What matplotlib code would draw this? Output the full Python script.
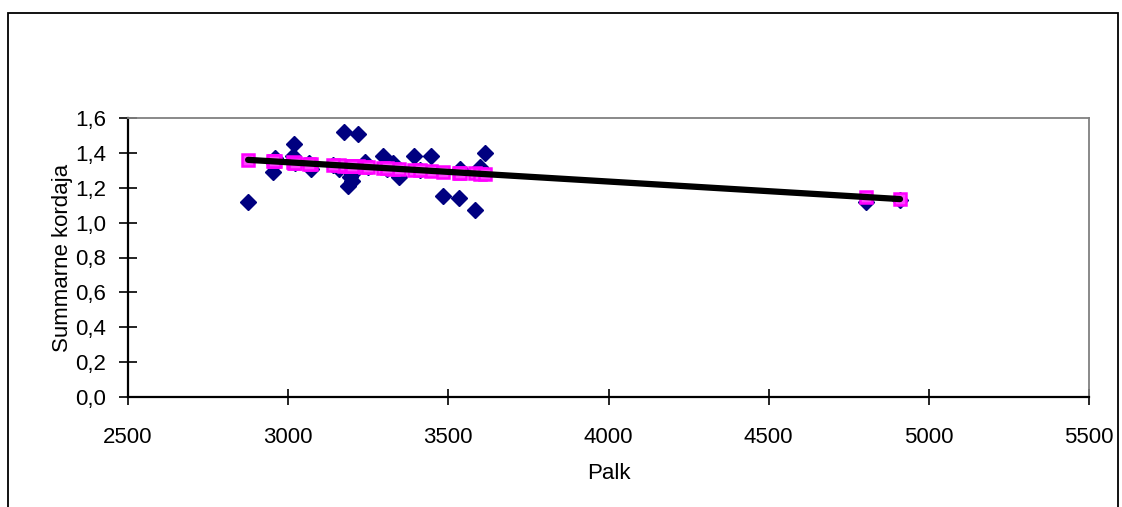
import matplotlib.pyplot as plt
from matplotlib.patches import Rectangle
from matplotlib.ticker import FuncFormatter

plt.rcParams['font.family'] = ['Liberation Sans', 'DejaVu Sans']

# observed values (Palk vs Summarne kordaja)
palk = [2875, 2953, 2960, 2955, 3018, 3015, 3020, 3070, 3065, 3175,
        3218, 3187, 3193, 3198, 3200, 3160, 3140, 3240, 3296, 3327,
        3346, 3310, 3393, 3446, 3483, 3533, 3583, 3537, 3599, 3615,
        3410, 3250, 4805, 4910]
kordaja = [1.12, 1.29, 1.37, 1.34, 1.45, 1.38, 1.34, 1.31, 1.34, 1.52,
           1.51, 1.21, 1.26, 1.24, 1.28, 1.31, 1.33, 1.35, 1.38, 1.34,
           1.26, 1.31, 1.38, 1.38, 1.15, 1.14, 1.07, 1.31, 1.32, 1.40,
           1.30, 1.32, 1.12, 1.13]
# predicted values (on trend line)
prognoos = [1.360, 1.351, 1.351, 1.351, 1.344, 1.345, 1.344, 1.338, 1.339, 1.327,
            1.322, 1.325, 1.325, 1.324, 1.324, 1.328, 1.331, 1.320, 1.313, 1.310,
            1.308, 1.312, 1.303, 1.297, 1.293, 1.287, 1.282, 1.287, 1.280, 1.278,
            1.301, 1.319, 1.147, 1.135]
trend_x = [2875, 4910]
trend_y = [1.360, 1.135]

fig = plt.figure(figsize=(11.22, 5.07), dpi=100)
ax = fig.add_axes([128/1122, 1 - 397/507, 961/1122, 279/507])

ax.plot(palk, kordaja, linestyle='none', marker='D', markersize=8.4,
        color='#000080', markeredgecolor='#000080', zorder=3)
ax.plot(palk, prognoos, linestyle='none', marker='s', markersize=9,
        markerfacecolor='#ff44ff', markeredgecolor='#ff00ff', markeredgewidth=1.8, zorder=4)
ax.plot(trend_x, trend_y, color='black', linewidth=4.5, solid_capstyle='round', zorder=5)

ax.set_xlim(2500, 5500)
ax.set_ylim(0, 1.6)
ax.set_xticks(range(2500, 5501, 500))
ax.set_yticks([i * 0.2 for i in range(9)])
ax.yaxis.set_major_formatter(FuncFormatter(lambda v, p: f'{v:.1f}'.replace('.', ',')))

for s in ['left', 'bottom']:
    ax.spines[s].set_color('black')
    ax.spines[s].set_linewidth(1.6)
for s in ['top', 'right']:
    ax.spines[s].set_color('#808080')
    ax.spines[s].set_linewidth(1.3)

ax.tick_params(axis='y', direction='inout', length=13, width=1.2, labelsize=16, pad=9)
ax.tick_params(axis='x', direction='inout', length=11.5, width=1.2, labelsize=16, pad=16)

ax.set_xlabel('Palk', fontsize=16, labelpad=11)
ax.set_ylabel('Summarne kordaja', fontsize=16, labelpad=2)

# chart border
fig.patches.append(Rectangle((8/1122, -0.1), 1110/1122, 1.1 - 13/507, transform=fig.transFigure,
                             fill=False, edgecolor='black', linewidth=1.3))

fig.savefig('out.png', dpi=100)
